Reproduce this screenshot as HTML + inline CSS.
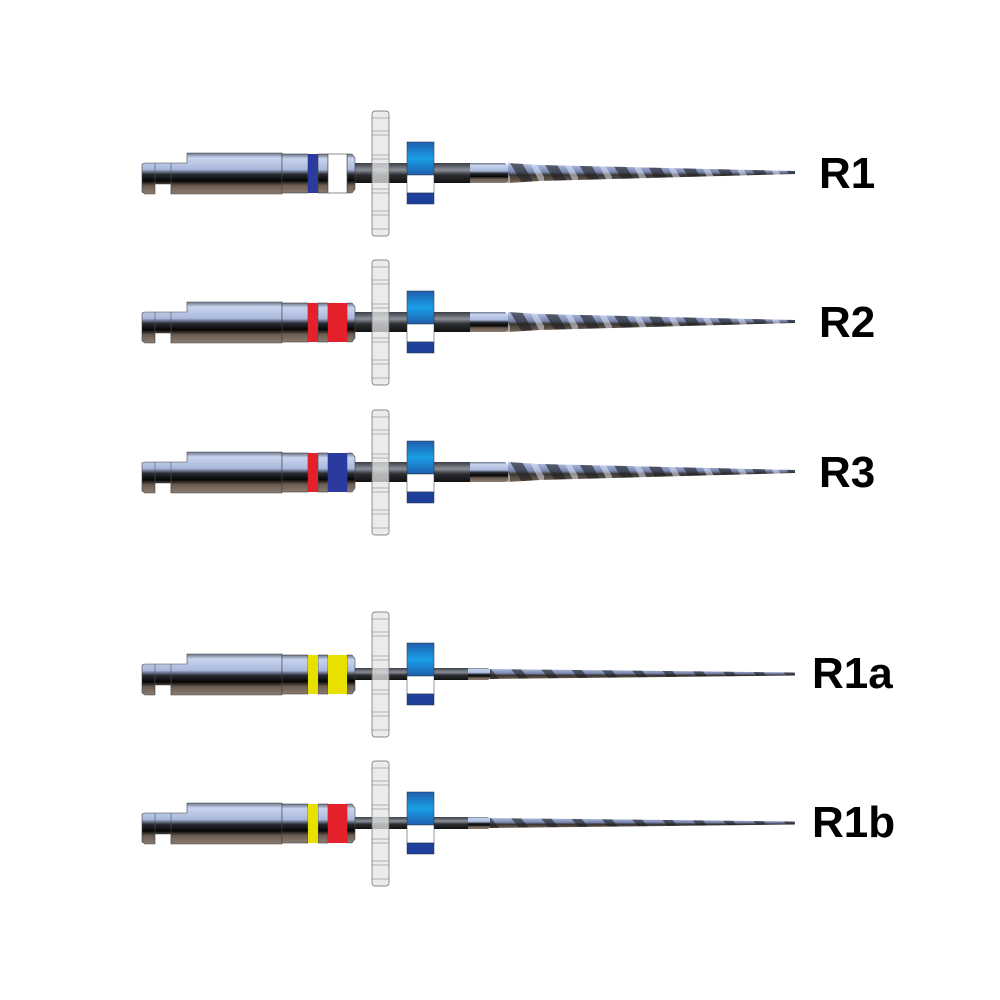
<!DOCTYPE html>
<html><head><meta charset="utf-8"><style>html,body{margin:0;padding:0;background:#fff}svg{display:block}</style></head>
<body>
<svg width="1000" height="1000" viewBox="0 0 1000 1000" xmlns="http://www.w3.org/2000/svg">
<defs>
<linearGradient id="met" x1="0" y1="0" x2="0" y2="1">
<stop offset="0" stop-color="#6a7488"/><stop offset="0.12" stop-color="#c8d4ee"/><stop offset="0.4" stop-color="#a9b8dc"/><stop offset="0.52" stop-color="#2a2c33"/><stop offset="0.68" stop-color="#050505"/><stop offset="0.8" stop-color="#6a5c50"/><stop offset="1" stop-color="#8b7d72"/>
</linearGradient>
<linearGradient id="shaft" x1="0" y1="0" x2="0" y2="1">
<stop offset="0" stop-color="#3a3d44"/><stop offset="0.35" stop-color="#8a8f99"/><stop offset="0.6" stop-color="#2b2d31"/><stop offset="1" stop-color="#111"/>
</linearGradient>
<linearGradient id="blu" x1="0" y1="0" x2="0" y2="1">
<stop offset="0" stop-color="#1f5fae"/><stop offset="0.5" stop-color="#1a9ee6"/><stop offset="1" stop-color="#1f5fae"/>
</linearGradient>
<linearGradient id="spi" x1="0" y1="0" x2="0" y2="1">
<stop offset="0" stop-color="#b8c6ea"/><stop offset="0.45" stop-color="#7a88b0"/><stop offset="0.6" stop-color="#3a3634"/><stop offset="1" stop-color="#7a6a5a"/>
</linearGradient>
<pattern id="twist" x="0" y="-10" width="34" height="20" patternUnits="userSpaceOnUse">
<rect width="34" height="20" fill="url(#spi)"/>
<path d="M0,0 L12,0 L24,20 L12,20Z" fill="#1e1e22" opacity="0.6"/>
<path d="M20,0 L26,0 L34,14 L34,20 L30,20Z" fill="#e8eeff" opacity="0.5"/>
</pattern>
<pattern id="twist2" x="0" y="-6" width="30" height="12" patternUnits="userSpaceOnUse">
<rect width="30" height="12" fill="url(#spi)"/>
<path d="M0,0 L10,0 L20,12 L10,12Z" fill="#1e1e22" opacity="0.6"/>
</pattern>
<g id="handle">
<path d="M142,-9 L145,-10 H187 V-20 H282 V21 H171 V11 H155 V21 H145 L142,19 Z" fill="url(#met)" stroke="#444" stroke-width="0.6"/>
<line x1="155" y1="-10" x2="155" y2="11" stroke="#555" stroke-width="0.6"/>
<line x1="171" y1="-10" x2="171" y2="21" stroke="#555" stroke-width="0.6"/>
<rect x="282" y="-19" width="26" height="39" fill="url(#met)" stroke="#444" stroke-width="0.6"/>
<rect x="318" y="-19" width="10" height="39" fill="url(#met)" stroke="#444" stroke-width="0.6"/>
<path d="M347,-19 H352 L355,-15 V16 L352,20 H347Z" fill="url(#met)" stroke="#444" stroke-width="0.6"/>
</g>
<g id="disc">
<rect x="372" y="-62" width="17" height="125" rx="3" fill="#e4e4e4" fill-opacity="0.75" stroke="#666" stroke-width="0.7"/>
<path d="M372,-55H389M372,-42H389M372,-38H389M372,-18H389M372,-14H389M372,16H389M372,20H389M372,38H389M372,42H389M372,56H389" stroke="#777" stroke-width="0.6"/>
</g>
<g id="stop">
<rect x="407" y="-31" width="27" height="33" fill="url(#blu)" stroke="#234" stroke-width="0.5"/>
<rect x="407" y="2" width="27" height="18" fill="#fff" stroke="#234" stroke-width="0.5"/>
<rect x="407" y="20" width="27" height="11" fill="#1e3f9a" stroke="#234" stroke-width="0.5"/>
</g>
<g id="tipA">
<rect x="353" y="-10" width="117" height="20" fill="url(#shaft)"/>
<path d="M470,-10 H505 L512,-3 V8 L505,10 H470Z" fill="url(#met)"/>
<path d="M508,-10 L540,-8 L795,-2 L795,1 L540,8 L508,10Z" fill="url(#twist)"/>
</g>
<g id="tipB">
<rect x="353" y="-6" width="115" height="12" fill="url(#shaft)"/>
<path d="M468,-6 H488 L492,-3 V3 L488,6 H468Z" fill="url(#met)"/>
<path d="M490,-5 L795,-1.5 L795,1.5 L490,5Z" fill="url(#twist2)"/>
</g>
</defs>
<g font-family="Liberation Sans, sans-serif" font-weight="bold" font-size="44" fill="#000">
<g transform="translate(0,173)">
<use href="#tipA"/><use href="#handle"/>
<rect x="308" y="-19" width="10" height="39" fill="#2a3a9e"/><rect x="328" y="-19" width="19" height="39" fill="#fff" stroke="#444" stroke-width="0.6"/>
<use href="#disc"/><use href="#stop"/>
<text x="819" y="15">R1</text></g>
<g transform="translate(0,322)">
<use href="#tipA"/><use href="#handle"/>
<rect x="308" y="-19" width="10" height="39" fill="#e4202a"/><rect x="328" y="-19" width="19" height="39" fill="#e4202a"/>
<use href="#disc"/><use href="#stop"/>
<text x="819" y="15">R2</text></g>
<g transform="translate(0,472)">
<use href="#tipA"/><use href="#handle"/>
<rect x="308" y="-19" width="10" height="39" fill="#e4202a"/><rect x="328" y="-19" width="19" height="39" fill="#2a3a9e"/>
<use href="#disc"/><use href="#stop"/>
<text x="819" y="15">R3</text></g>
<g transform="translate(0,674)">
<use href="#tipB"/><use href="#handle"/>
<rect x="308" y="-19" width="10" height="39" fill="#e8e000"/><rect x="328" y="-19" width="19" height="39" fill="#e8e000"/>
<use href="#disc"/><use href="#stop"/>
<text x="812" y="14">R1a</text></g>
<g transform="translate(0,823)">
<use href="#tipB"/><use href="#handle"/>
<rect x="308" y="-19" width="10" height="39" fill="#e8e000"/><rect x="328" y="-19" width="19" height="39" fill="#e4202a"/>
<use href="#disc"/><use href="#stop"/>
<text x="812" y="14">R1b</text></g>
</g>
</svg>
</body></html>
